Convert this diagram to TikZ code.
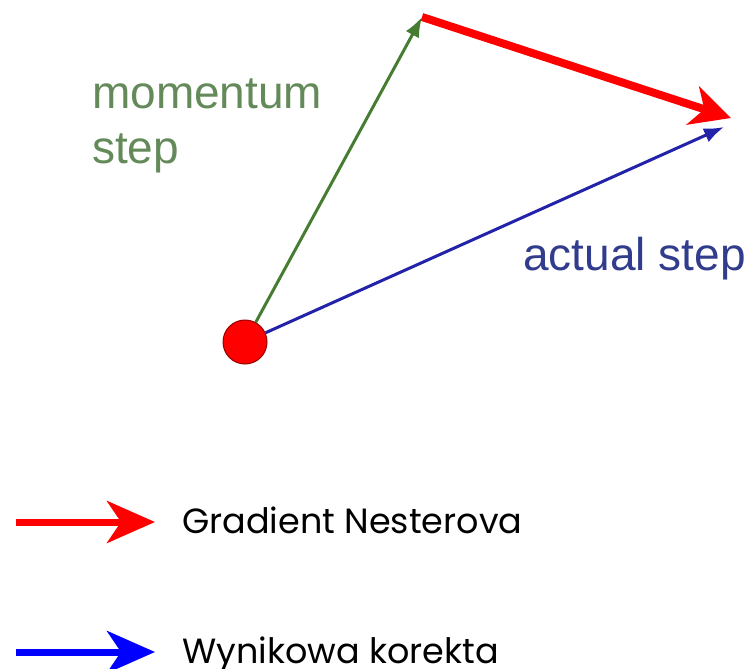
\documentclass[tikz,border=0pt]{standalone}
\usepackage{fontspec}
\setmainfont{Liberation Sans}
\newfontfamily\legendfont{Poppins}
\usetikzlibrary{arrows.meta}
\definecolor{gArrow}{RGB}{70,125,50}
\definecolor{gText}{RGB}{100,138,90}
\definecolor{bArrow}{RGB}{35,35,170}
\definecolor{bText}{RGB}{50,60,140}
\definecolor{dotEdge}{RGB}{150,0,0}
\tikzset{
  thin arrow/.style={line width=3pt,-{Latex[length=20pt,width=15pt]}},
  big arrow/.style={line width=8pt,red,-{Stealth[length=40pt,width=40pt,inset=12pt]}},
  legend red/.style={line width=7pt,red,-{Stealth[length=48pt,width=42pt,inset=14pt]}},
  legend blue/.style={line width=7pt,blue,-{Stealth[length=48pt,width=42pt,inset=14pt]}},
  lab/.style={font=\fontsize{46}{52}\selectfont,inner sep=0pt,anchor=base west},
  leg/.style={font=\legendfont\fontsize{35}{40}\selectfont,inner sep=0pt,anchor=base west},
}
\begin{document}
\begin{tikzpicture}[x=1pt,y=-1pt]
\useasboundingbox (0,0) rectangle (747,669);
\node[circle,fill=red,draw=dotEdge,line width=1pt,minimum size=44pt,inner sep=0pt] (dot) at (245,342) {};
\coordinate (gtip) at (422,17);
\coordinate (rtip) at (731,118);
\coordinate (btip) at (724,127);
\draw[thin arrow,bArrow] (dot) -- (btip);
\draw[thin arrow,gArrow] (dot) -- (gtip);
\draw[big arrow] (gtip) -- (rtip);
\node[lab,text=gText] (mom) at (92,108) {momentum};
\node[lab,text=gText] (stp) at (92,163) {step};
\node[lab,text=bText] (act) at (523,270) {actual step};
\coordinate (r1) at (16,522);
\coordinate (r2) at (155,522);
\draw[legend red] (r1) -- (r2);
\coordinate (b1) at (16,652);
\coordinate (b2) at (155,652);
\draw[legend blue] (b1) -- (b2);
\node[leg] (gn) at (182,533) {Gradient Nesterova};
\node[leg] (wk) at (182,663) {Wynikowa korekta};
\end{tikzpicture}
\end{document}
